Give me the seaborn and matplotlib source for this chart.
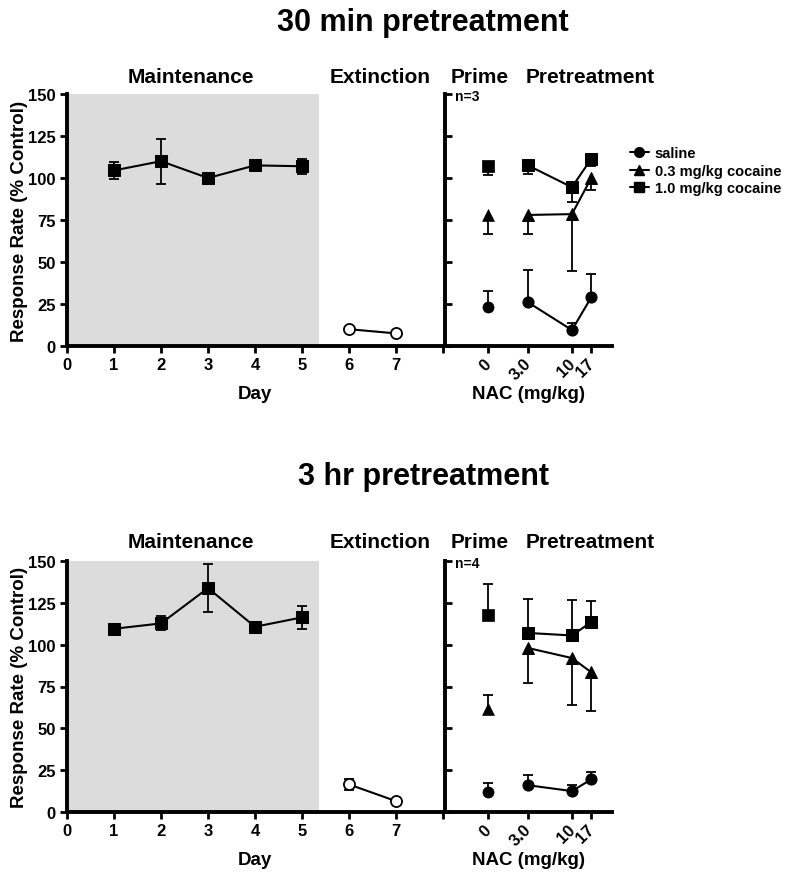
import matplotlib
matplotlib.use("Agg")
import matplotlib.pyplot as plt
import seaborn as sns
from matplotlib.lines import Line2D
from matplotlib.ticker import NullLocator

# ---------------- data ----------------
days_maint = [1, 2, 3, 4, 5]
days_ext = [6, 7]
day_ticks = [0, 1, 2, 3, 4, 5, 6, 7, 8]
day_labels = ["0", "1", "2", "3", "4", "5", "6", "7", ""]

nac_labels = ["0", "3.0", "10", "17"]
nac_pos = [1, 3, 10, 17]          # 0 mg/kg drawn at 1 on the log axis

series_names = ["saline", "0.3 mg/kg cocaine", "1.0 mg/kg cocaine"]
series_markers = ["o", "^", "s"]

# 30 min pretreatment
top_maint = [104.5, 110, 100, 107.5, 107]
top_maint_err = [5, 13.5, 1.5, 2, 4.5]
top_ext = [10, 7.5]
top_ext_err = [0.8, 0.8]
top_prime = [23, 78, 107]
top_prime_err = [9.5, 11.5, 5]
top_prime_dir = [1, -1, -1]
top_saline = [26, 9.5, 29]
top_saline_err = [19, 4, 14]
top_low = [78, 78.5, 100]
top_low_err = [11.5, 34, 7]
top_high = [107.5, 94.5, 111.5]
top_high_err = [5, 8.5, 4.5]
top_pre_dir = [1, -1, -1]

# 3 hr pretreatment
bot_maint = [109.5, 112.7, 133.8, 110.7, 116.3]
bot_maint_err = [1.5, 4.2, 14.4, 2, 6.7]
bot_ext = [16.5, 6.5]
bot_ext_err = [3.5, 1]
bot_prime = [12, 61.5, 118]
bot_prime_err = [5.4, 8.3, 18.5]
bot_prime_dir = [1, 1, 1]
bot_saline = [16, 12.5, 19.5]
bot_saline_err = [6.3, 3.4, 4.4]
bot_low = [98, 92, 83.5]
bot_low_err = [21, 28, 23]
bot_high = [107, 105.5, 113.5]
bot_high_err = [20, 21, 12.7]
bot_pre_dir = [1, -1, 1]

shade_end = 5.37

# ---------------- style ----------------
sns.set_theme(style="ticks")
plt.rcParams["font.family"] = ["Liberation Sans", "DejaVu Sans"]
plt.rcParams["font.weight"] = "bold"
plt.rcParams["axes.labelweight"] = "bold"
for k in ["text.color", "axes.labelcolor", "xtick.color", "ytick.color",
          "axes.edgecolor"]:
    plt.rcParams[k] = "black"

W, H = 800, 878
fig = plt.figure(figsize=(W / 100, H / 100), dpi=100)

SPINE_LW = 2.8
LINE_LW = 1.5
ERR_LW = 1.3
CAP = 3.8
MS = 8
MS_BY_MARKER = {"o": 8, "^": 8.5, "s": 8}


def fx(px):
    return px / W


def fy(py):
    return 1 - py / H


def one_sided_bars(ax, x, y, err, d):
    """Error bar drawn on one side only (stem + cap at the far end)."""
    lo = [e if d < 0 else 0 for e in err]
    hi = [e if d > 0 else 0 for e in err]
    ax.errorbar(x, y, yerr=[lo, hi], fmt="none", ecolor="black",
                elinewidth=ERR_LW, capsize=0, zorder=2)
    ends = [v + d * e for v, e in zip(y, err)]
    ax.plot(x, ends, linestyle="none", marker="_", markersize=2 * CAP,
            markeredgewidth=ERR_LW, color="black", zorder=2)


def style_axes(ax):
    for s in ["top", "right"]:
        ax.spines[s].set_visible(False)
    for s in ["left", "bottom"]:
        ax.spines[s].set_linewidth(SPINE_LW)
        ax.spines[s].set_color("black")
    ax.set_ylim(0, 150)
    ax.set_yticks([0, 25, 50, 75, 100, 125, 150])


def draw_panel(top_px, bottom_px, maint, maint_err, ext, ext_err,
               prime, prime_err, prime_dir, pre_list, pre_err_list, pre_dir,
               n_text, title, title_base, sect_base):
    h = (bottom_px - top_px) / H
    axl = fig.add_axes([fx(67), fy(bottom_px), fx(443) - fx(67), h])
    axr = fig.add_axes([fx(445), fy(bottom_px), fx(612) - fx(445), h])

    # ---- left: maintenance + extinction
    axl.axvspan(0, shade_end, color="#dcdcdc", lw=0, zorder=0)
    axl.errorbar(days_maint, maint, yerr=maint_err, fmt="none", ecolor="black",
                 elinewidth=ERR_LW, capsize=CAP, capthick=ERR_LW, zorder=2)
    sns.lineplot(x=days_maint, y=maint, ax=axl, color="black", marker="s",
                 markersize=MS, markeredgecolor="black", linewidth=LINE_LW, zorder=3)
    axl.errorbar(days_ext, ext, yerr=ext_err, fmt="none", ecolor="black",
                 elinewidth=ERR_LW, capsize=CAP, capthick=ERR_LW, zorder=2)
    sns.lineplot(x=days_ext, y=ext, ax=axl, color="black", marker="o",
                 markersize=MS, markerfacecolor="white", markeredgecolor="black",
                 markeredgewidth=1.3, linewidth=LINE_LW, zorder=3)
    style_axes(axl)
    axl.set_xlim(0, 8)
    axl.set_xticks(day_ticks)
    axl.set_xticklabels(day_labels)
    axl.tick_params(axis="both", direction="out", length=5, width=2,
                    labelsize=12, colors="black", pad=3)
    axl.set_xlabel("Day", fontsize=13.5, fontweight="bold")
    axl.xaxis.set_label_coords(0.5, -0.155)
    axl.set_ylabel("")

    # ---- right: prime + pretreatment
    for i in range(3):
        m = series_markers[i]
        ms = MS_BY_MARKER[m]
        one_sided_bars(axr, [nac_pos[0]], [prime[i]], [prime_err[i]], prime_dir[i])
        sns.scatterplot(x=[nac_pos[0]], y=[prime[i]], ax=axr, marker=m, s=ms ** 2,
                        color="black", edgecolor="black", linewidth=0.5, zorder=3)
        one_sided_bars(axr, nac_pos[1:], pre_list[i], pre_err_list[i], pre_dir[i])
        sns.lineplot(x=nac_pos[1:], y=pre_list[i], ax=axr, color="black", marker=m,
                     markersize=ms, markeredgecolor="black", linewidth=LINE_LW, zorder=3)
    style_axes(axr)
    axr.set_xscale("log")
    axr.set_xlim(0.308, 30)
    axr.set_xticks(nac_pos)
    axr.xaxis.set_minor_locator(NullLocator())
    axr.set_xticklabels(nac_labels, rotation=45, ha="right", va="center_baseline",
                        rotation_mode="anchor")
    axr.set_yticklabels([])
    axr.tick_params(axis="x", direction="out", length=5, width=2,
                    labelsize=12, colors="black", pad=5)
    axr.tick_params(axis="y", direction="in", length=5, width=2, colors="black")
    axr.set_xlabel("NAC (mg/kg)", fontsize=13.5, fontweight="bold")
    axr.xaxis.set_label_coords(0.5, -0.155)
    axr.set_ylabel("")
    axr.text(0.06, 1.02, n_text, transform=axr.transAxes, fontsize=10,
             fontweight="bold", ha="left", va="top")

    # ---- texts
    fig.text(fx(20), fy((top_px + bottom_px) / 2), "Response Rate (% Control)",
             rotation=90, ha="center", va="center", fontsize=13.5, fontweight="bold")
    fig.text(fx(423), fy(title_base), title, ha="center", va="baseline",
             fontsize=22, fontweight="bold")
    for lab, cx in [("Maintenance", 191), ("Extinction", 380), ("Prime", 480),
                    ("Pretreatment", 590)]:
        fig.text(fx(cx), fy(sect_base), lab, ha="center", va="baseline",
                 fontsize=15, fontweight="bold")
    return axl, axr


draw_panel(95, 347, top_maint, top_maint_err, top_ext, top_ext_err,
           top_prime, top_prime_err, top_prime_dir,
           [top_saline, top_low, top_high], [top_saline_err, top_low_err, top_high_err],
           top_pre_dir, "n=3", "30 min pretreatment", 31, 83)
draw_panel(562, 813, bot_maint, bot_maint_err, bot_ext, bot_ext_err,
           bot_prime, bot_prime_err, bot_prime_dir,
           [bot_saline, bot_low, bot_high], [bot_saline_err, bot_low_err, bot_high_err],
           bot_pre_dir, "n=4", "3 hr pretreatment", 485, 548)

handles = [Line2D([0], [0], color="black", marker=m, markersize=7, lw=1.5)
           for m in series_markers]
fig.legend(handles, series_names, loc="upper left",
           bbox_to_anchor=(fx(630), fy(147)), frameon=False,
           handlelength=1.3, handletextpad=0.4, labelspacing=0.25,
           borderpad=0, borderaxespad=0, prop={"weight": "bold", "size": 10.5})

fig.savefig("out.png", dpi=100)
